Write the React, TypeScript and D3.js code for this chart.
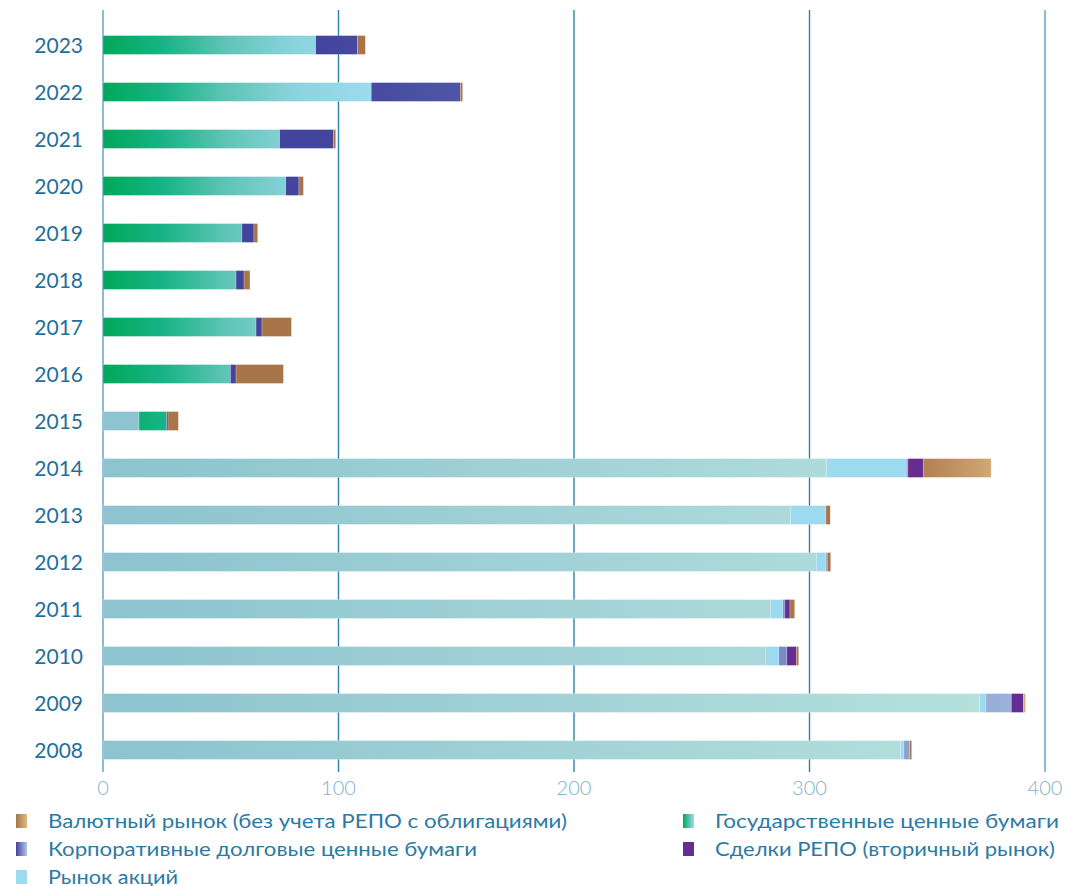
import React from "react";
import * as d3 from "d3";

const years = ["2023","2022","2021","2020","2019","2018","2017","2016","2015","2014","2013","2012","2011","2010","2009","2008"];
// unlabeled base series (pre-2015 style)
const other = [0,0,0,0,0,0,0,0,15.3,307.2,291.9,302.9,283.4,281.5,372.3,338.6];
const gov = [90.3,113.9,75.0,77.6,59.0,56.5,65.0,54.1,11.7,0,0,0,0,0,0,0];
const stocks = [0,0,0,0,0,0,0,0,0,33.9,15.1,4.1,5.3,5.5,2.6,1.5];
const corp = [17.7,37.9,22.8,5.6,5.1,3.4,2.5,2.4,0.6,0.7,0,0.4,0.9,3.4,10.8,2.4];
const repo = [0,0,0,0,0,0,0,0,0,6.5,0,0.3,2.1,4.0,5.1,0];
const fx = [3.4,0.9,1.0,1.9,1.6,2.5,12.5,20.1,4.4,28.8,1.8,1.3,2.0,1.0,0.9,0.9];
const ticks = [0,100,200,300,400];

const seriesKeys = ["other","gov","stocks","corp","repo","fx"];
const seriesData: Record<string, number[]> = { other, gov, stocks, corp, repo, fx };
const fills: Record<string, string> = {
  other: "url(#gOther)",
  gov: "url(#gGov)",
  stocks: "#9cdaf0",
  corp: "url(#gCorp)",
  repo: "#652d91",
  fx: "url(#gFx)",
};

const legendItems = [
  { label: "Валютный рынок (без учета РЕПО с облигациями)", fill: "url(#lFx)", col: 0, row: 0, w: 519 },
  { label: "Корпоративные долговые ценные бумаги", fill: "url(#lCorp)", col: 0, row: 1, w: 429 },
  { label: "Рынок акций", fill: "#9cdaf0", col: 0, row: 2, w: 130 },
  { label: "Государственные ценные бумаги", fill: "url(#lGov)", col: 1, row: 0, w: 344 },
  { label: "Сделки РЕПО (вторичный рынок)", fill: "#652d91", col: 1, row: 1, w: 340 },
];

export default function App() {
  const W = 1065, H = 886;
  const x = d3.scaleLinear().domain([0, 400]).range([103, 1045]);
  const y = d3.scaleBand().domain(years).range([21.5, 773.5]).paddingInner(0.6).paddingOuter(0.3);
  const rows = years.map((yr, i) => {
    const row: any = { year: yr };
    seriesKeys.forEach((k) => (row[k] = seriesData[k][i]));
    return row;
  });
  const stacked = d3.stack().keys(seriesKeys)(rows);
  const font = "Lato, 'Noto Sans', sans-serif";
  return (
    <svg width={W} height={H} style={{ position: "absolute", left: 0, top: 0, background: "#fff" }}>
      <defs>
        <linearGradient id="gGov" gradientUnits="userSpaceOnUse" x1={x(0)} x2={x(115)} y1={0} y2={0}>
          <stop offset="0" stopColor="#00a859" />
          <stop offset="0.22" stopColor="#17b385" />
          <stop offset="0.45" stopColor="#5ec4b5" />
          <stop offset="0.7" stopColor="#8ad3dc" />
          <stop offset="1" stopColor="#9ddbf0" />
        </linearGradient>
        <linearGradient id="gOther" gradientUnits="userSpaceOnUse" x1={x(0)} x2={x(380)} y1={0} y2={0}>
          <stop offset="0" stopColor="#8cc3cf" />
          <stop offset="1" stopColor="#b6e1dd" />
        </linearGradient>
        <linearGradient id="gCorp" gradientUnits="userSpaceOnUse" x1={x(90)} x2={x(390)} y1={0} y2={0}>
          <stop offset="0" stopColor="#43449d" />
          <stop offset="0.23" stopColor="#4f58a6" />
          <stop offset="1" stopColor="#9cb3dc" />
        </linearGradient>
        <linearGradient id="gFx" gradientUnits="userSpaceOnUse" x1={x(340)} x2={x(380)} y1={0} y2={0}>
          <stop offset="0" stopColor="#a8754a" />
          <stop offset="1" stopColor="#d4ab76" />
        </linearGradient>
        <linearGradient id="lFx" x1="0" x2="1" y1="0" y2="0">
          <stop offset="0" stopColor="#a8754a" />
          <stop offset="1" stopColor="#e0bb82" />
        </linearGradient>
        <linearGradient id="lCorp" x1="0" x2="1" y1="0" y2="0">
          <stop offset="0" stopColor="#43449d" />
          <stop offset="1" stopColor="#b4c4e8" />
        </linearGradient>
        <linearGradient id="lGov" x1="0" x2="1" y1="0" y2="0">
          <stop offset="0" stopColor="#00a859" />
          <stop offset="1" stopColor="#9ddbf0" />
        </linearGradient>
      </defs>
      {ticks.map((t) => (
        <g key={t}>
          <line x1={x(t)} x2={x(t)} y1={10} y2={772} stroke={t === 0 || t === 400 ? "#5a9fc4" : "#2b82ad"} strokeWidth={1.4} />
          <text x={x(t)} y={795} textAnchor="middle" fontFamily={font} fontSize={20} fill="#82b1cc" fontWeight={300}>{t}</text>
        </g>
      ))}
      {stacked.map((s) => (
        <g key={s.key}>
          {s.map((d, i) =>
            d[1] - d[0] > 0 ? (
              <rect key={i} x={x(d[0])} y={y(years[i])!} width={x(d[1]) - x(d[0])} height={y.bandwidth()} fill={fills[s.key]} stroke="#ffffff" strokeOpacity={0.35} strokeWidth={0.6} />
            ) : null
          )}
        </g>
      ))}
      {years.map((yr) => (
        <text key={yr} x={83} y={y(yr)! + y.bandwidth() / 2 + 7.5} textAnchor="end" fontFamily={font} fontSize={21} fill="#1f6f9c">{yr}</text>
      ))}
      {legendItems.map((it, i) => {
        const lx = it.col === 0 ? 16 : 683;
        const ly = 821 + it.row * 28;
        return (
          <g key={i}>
            <rect x={lx} y={ly - 7} width={11} height={14} fill={it.fill} />
            <text x={lx + 32} y={ly + 6.5} fontFamily={font} fontSize={19.5} fill="#2b7aa5" textLength={it.w} lengthAdjust="spacingAndGlyphs">{it.label}</text>
          </g>
        );
      })}
    </svg>
  );
}
